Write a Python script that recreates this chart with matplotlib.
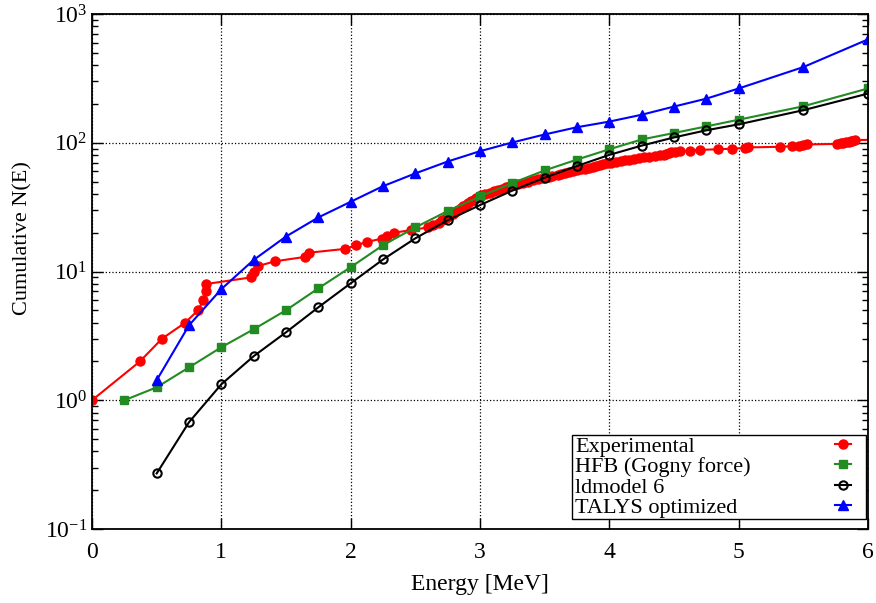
import matplotlib.pyplot as plt
from matplotlib.patches import Rectangle

plt.rcParams['font.family'] = ['Liberation Serif', 'DejaVu Serif']
plt.rcParams['mathtext.fontset'] = 'custom'
plt.rcParams['mathtext.rm'] = 'Liberation Serif'

# Níveis experimentais (energia de cada nível, contagem cumulativa 1..N)
exp_e = [0.00, 0.37, 0.54, 0.72, 0.82, 0.86, 0.88, 0.885, 1.23, 1.25,
         1.28, 1.415, 1.65, 1.68, 1.96, 2.04, 2.13, 2.24, 2.28, 2.335,
         2.47, 2.60, 2.64, 2.68, 2.71, 2.74, 2.76, 2.79, 2.81, 2.83,
         2.85, 2.87, 2.89, 2.91, 2.93, 2.95, 2.97, 2.99, 3.01, 3.04,
         3.08, 3.11, 3.14, 3.17, 3.20, 3.23, 3.26, 3.29, 3.33, 3.37,
         3.41, 3.45, 3.49, 3.53, 3.56, 3.60, 3.63, 3.66, 3.69, 3.72,
         3.75, 3.78, 3.81, 3.84, 3.87, 3.90, 3.93, 3.95, 3.98, 4.01,
         4.05, 4.09, 4.12, 4.15, 4.19, 4.23, 4.27, 4.31, 4.35, 4.39,
         4.42, 4.44, 4.46, 4.48, 4.51, 4.55, 4.62, 4.70, 4.84, 4.95,
         5.05, 5.07, 5.32, 5.41, 5.47, 5.50, 5.53, 5.76, 5.79, 5.81,
         5.83, 5.85, 5.87, 5.88, 5.90, 6.30]
exp_n = list(range(1, len(exp_e) + 1))

# Modelos
hfb_e = [0.25, 0.5, 0.75, 1.0, 1.25, 1.5, 1.75, 2.0, 2.25, 2.5, 2.75, 3.0,
         3.25, 3.5, 3.75, 4.0, 4.25, 4.5, 4.75, 5.0, 5.5, 6.0]
hfb_n = [1.0, 1.26, 1.80, 2.58, 3.56, 5.0, 7.4, 10.8, 16.0, 22.0, 29.5, 38.3,
         48.6, 61, 74, 89, 106, 119, 134, 151, 192, 264]

ld_e = [0.5, 0.75, 1.0, 1.25, 1.5, 1.75, 2.0, 2.25, 2.5, 2.75, 3.0, 3.25,
        3.5, 3.75, 4.0, 4.25, 4.5, 4.75, 5.0, 5.5, 6.0]
ld_n = [0.27, 0.675, 1.33, 2.2, 3.37, 5.27, 8.1, 12.4, 18.1, 25.0, 32.8, 42.5,
        53.5, 66, 80.5, 95, 110, 125, 139, 179, 241]

talys_e = [0.5, 0.75, 1.0, 1.25, 1.5, 1.75, 2.0, 2.25, 2.5, 2.75, 3.0, 3.25,
           3.5, 3.75, 4.0, 4.25, 4.5, 4.75, 5.0, 5.5, 6.0]
talys_n = [1.43, 3.82, 7.3, 12.3, 18.7, 26.3, 34.8, 46, 57.8, 71.5, 86, 100.5,
           116, 132, 146, 165, 191, 220, 264, 387, 635]

W, H = 876, 603
fig = plt.figure(figsize=(W / 100, H / 100), dpi=100)
ax = fig.add_axes([92 / W, 1 - 529 / H, 776 / W, 515 / H])

ax.plot(exp_e, exp_n, '-o', color='red', lw=1.5, ms=6.5, label='Experimental')
ax.plot(hfb_e, hfb_n, '-s', color='#228B22', lw=1.5, ms=6, label='HFB (Gogny force)')
ax.plot(ld_e, ld_n, '-o', color='black', mfc='none', mew=1.5, lw=1.5, ms=6,
        label='ldmodel 6')
ax.plot(talys_e, talys_n, '-^', color='blue', lw=1.5, ms=6.5, label='TALYS optimized')

ax.set_yscale('log')
ax.set_xlim(0, 6)
ax.set_ylim(0.1, 1000)
ax.grid(True, which='major', color='black', linestyle=':', linewidth=0.9)
ax.tick_params(which='both', direction='in', top=True, right=True, labelsize=17)
ax.tick_params(which='major', length=8, width=1)
ax.tick_params(which='minor', length=4, width=1)
ax.tick_params(axis='x', pad=9)
for s in ax.spines.values():
    s.set_linewidth(1.3)

ax.set_xlabel('Energy [MeV]', fontsize=17, labelpad=8)
ax.set_ylabel('Cumulative N(E)', fontsize=16)
ax.yaxis.set_label_coords(-0.077, 0.565)

# Caixa da legenda (texto à esquerda, marcador à direita, estilo gnuplot)
caixa = Rectangle((572 / W, 1 - 519 / H), 294 / W, 84 / H, transform=fig.transFigure,
                  facecolor='white', edgecolor='black', lw=1.0, zorder=4,
                  clip_on=False)
ax.add_patch(caixa)

leg = ax.legend(loc='upper left', bbox_to_anchor=(575 / W, 1 - 436 / H),
                bbox_transform=fig.transFigure, markerfirst=False, fontsize=16,
                frameon=False, handlelength=0.7, handletextpad=0, borderpad=0,
                labelspacing=0.0, borderaxespad=0)
leg.set_zorder(5)
col = leg._legend_handle_box.get_children()[0]
col.align = 'left'
renderer = fig.canvas.get_renderer()
larguras = [t.get_window_extent(renderer).width for t in leg.get_texts()]
for item, w in zip(col.get_children(), larguras):
    item.sep = (835 - 575 - w) * 72 / 100

plt.savefig('out.png', dpi=100)
